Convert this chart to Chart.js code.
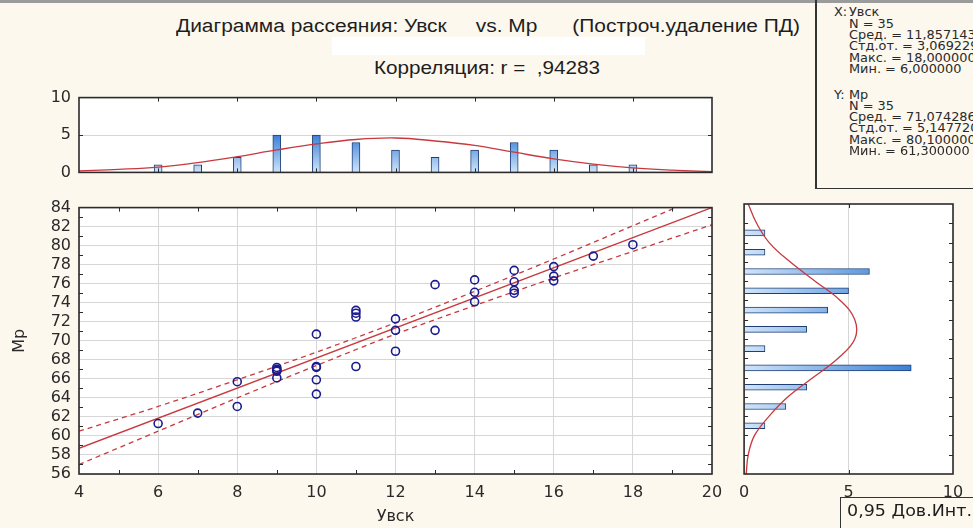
<!DOCTYPE html>
<html lang="ru">
<head>
<meta charset="utf-8">
<title>Диаграмма рассеяния: Увск vs. Мр</title>
<script src="https://cdn.jsdelivr.net/npm/chart.js@4.4.1/dist/chart.umd.min.js"></script>
<style>
    html, body { margin: 0; padding: 0; }
    body {
        position: relative;
        width: 973px;
        height: 528px;
        overflow: hidden;
        background: #fcf8ee;
        font-family: "Liberation Sans", Arial, sans-serif;
        color: #1e1e1e;
    }
    canvas { position: absolute; }
    .texto { position: absolute; white-space: pre; line-height: 1; transform-origin: left top; }
    #faixaTopo { position: absolute; left: 0; top: 0; width: 973px; height: 3px; background: #9b9b9b; }
    #tarjaBranca { position: absolute; left: 332px; top: 37px; width: 313px; height: 18px; background: #fff; }
    #titulo { left: 176px; top: 17px; font-size: 18px; }
    #correlacao { left: 374px; top: 59px; font-size: 18px; }
    #caixaEstat {
        position: absolute; left: 815px; top: -2px; width: 170px; height: 190px;
        border-left: 2px solid #333; border-bottom: 1.5px solid #333; z-index: 2;
    }
    .estat { font-family: "DejaVu Sans", sans-serif; font-size: 11.5px; z-index: 3; color: #2a2a2a; }
    #caixaLegenda {
        position: absolute; left: 840px; top: 497px; width: 150px; height: 40px;
        border: 1px solid #333; z-index: 2;
    }
    #legendaTexto { left: 847px; top: 503px; font-family: "DejaVu Sans", sans-serif; font-size: 16px; z-index: 3; }
</style>
</head>
<body>
<div id="faixaTopo"></div>
<div id="titulo" class="texto">Диаграмма рассеяния: Увск     vs. Мр      (Построч.удаление ПД)</div>
<div id="tarjaBranca"></div>
<div id="correlacao" class="texto">Корреляция: r =  ,94283</div>
<div id="caixaEstat"></div>
<div id="caixaLegenda"></div>
<div id="legendaTexto" class="texto">0,95 Дов.Инт.</div>

<canvas id="histTopo" width="740" height="110" style="left:0;top:80px"></canvas>
<canvas id="graficoPrincipal" width="740" height="338" style="left:0;top:190px"></canvas>
<canvas id="histDireita" width="243" height="338" style="left:730px;top:190px"></canvas>

<script>
// ============================================
// DADOS
// ============================================

// Pontos: Увск (x) e Мр (y)
const valoresUvsk = [6, 7, 8, 8, 9, 9, 9, 9, 9, 10, 10, 10, 10, 10, 11, 11, 11, 11,
    12, 12, 12, 13, 13, 14, 14, 14, 15, 15, 15, 15, 16, 16, 16, 17, 18];
const valoresMp = [61.3, 62.4, 65.7, 63.1, 67.2, 67.0, 66.9, 66.8, 66.1, 70.7, 67.3, 67.2, 65.9, 64.4,
    73.2, 72.9, 72.5, 67.3, 72.3, 71.1, 68.9, 75.9, 71.1, 76.4, 75.1, 74.1, 77.4, 76.2, 75.3, 75.0,
    77.8, 76.8, 76.3, 78.9, 80.1];

// Histograma de Увск (topo)
const classesUvsk = [6, 7, 8, 9, 10, 11, 12, 13, 14, 15, 16, 17, 18];
const contagemUvsk = [1, 1, 2, 5, 5, 4, 3, 2, 3, 4, 3, 1, 1];

// Histograma de Мр (direita)
const classesMp = [61, 63, 65, 67, 69, 71, 73, 75, 77, 79, 81];
const contagemMp = [1, 2, 3, 8, 1, 3, 4, 5, 6, 1, 1];

// Curva normal sobre o histograma de Увск
const curvaUvskX = [4, 5, 6, 7, 8, 9, 10, 11, 12, 13, 14, 15, 16, 17, 18, 19, 20];
const curvaUvskY = [0.2, 0.4, 0.7, 1.3, 2.1, 3.0, 3.8, 4.4, 4.6, 4.2, 3.6, 2.7, 1.8, 1.1, 0.6, 0.3, 0.1];

// Curva normal sobre o histograma de Мр
const curvaMpY = [56, 58, 60, 62, 64, 66, 68, 70, 72, 74, 76, 78, 80, 82, 84];
const curvaMpX = [0.1, 0.2, 0.5, 1.2, 2.1, 3.3, 4.5, 5.3, 5.3, 4.6, 3.4, 2.2, 1.2, 0.6, 0.2];

// Reta de regressão e intervalo de confiança 0,95
const retaX = [4, 20];
const retaY = [58.7, 84.0];
const faixaX = [4, 6, 8, 10, 12, 14, 16, 18, 20];
const faixaSuperior = [60.5, 63.1, 65.9, 68.8, 71.9, 75.2, 78.6, 82.1, 85.6];
const faixaInferior = [57.0, 60.5, 64.0, 67.4, 70.7, 73.7, 76.6, 79.4, 82.2];

// Rótulos dos eixos
const ticksUvsk = [4, 6, 8, 10, 12, 14, 16, 18, 20];
const ticksMp = [56, 58, 60, 62, 64, 66, 68, 70, 72, 74, 76, 78, 80, 82, 84];
const ticksContagemTopo = [0, 5, 10];
const ticksContagemDireita = [0, 5, 10];

// Texto da caixa de estatísticas
const estatX = ['N = 35', 'Сред. = 11,857143', 'Стд.от. = 3,069229', 'Макс. = 18,000000', 'Мин. = 6,000000'];
const estatY = ['N = 35', 'Сред. = 71,074286', 'Стд.от. = 5,147720', 'Макс. = 80,100000', 'Мин. = 61,300000'];

// ============================================
// ESTILO
// ============================================
const corVermelha = '#c8393e';
const corPontos = '#1b1b8e';
const corBordaBarra = '#1f3f73';
const corGrade = '#d6d6d6';
const corTexto = '#2a2a2a';
const fonteEixo = { family: 'DejaVu Sans', size: 16 };
const fonteTitulo = { family: 'DejaVu Sans', size: 16 };

// Fundo branco, moldura e marcas internas
const pluginMoldura = {
    id: 'moldura',
    beforeDraw(chart) {
        const { ctx, chartArea: a } = chart;
        ctx.save();
        ctx.fillStyle = '#ffffff';
        ctx.fillRect(a.left, a.top, a.right - a.left, a.bottom - a.top);
        ctx.restore();
    },
    afterDatasetsDraw(chart, args, opts) {
        const { ctx, chartArea: a, scales } = chart;
        const tam = 4;
        ctx.save();
        ctx.strokeStyle = '#2b2b2b';
        ctx.lineWidth = 1;
        ctx.beginPath();
        (opts.marcasX || []).forEach(v => {
            const px = Math.round(scales.x.getPixelForValue(v)) + 0.5;
            ctx.moveTo(px, a.top); ctx.lineTo(px, a.top + tam);
            ctx.moveTo(px, a.bottom); ctx.lineTo(px, a.bottom - tam);
        });
        (opts.marcasY || []).forEach(v => {
            const py = Math.round(scales.y.getPixelForValue(v)) + 0.5;
            ctx.moveTo(a.left, py); ctx.lineTo(a.left + tam, py);
            ctx.moveTo(a.right, py); ctx.lineTo(a.right - tam, py);
        });
        ctx.stroke();
        ctx.lineWidth = 1.6;
        ctx.strokeRect(a.left, a.top, a.right - a.left, a.bottom - a.top);
        ctx.restore();
    }
};

// Gradiente das barras (claro na base, escuro no topo)
function gradienteBarra(horizontal, valorTopo) {
    return (c) => {
        const chart = c.chart;
        const a = chart.chartArea;
        if (!a) return '#8dbbec';
        const g = horizontal
            ? chart.ctx.createLinearGradient(a.left, 0, chart.scales.x.getPixelForValue(valorTopo), 0)
            : chart.ctx.createLinearGradient(0, a.bottom, 0, chart.scales.y.getPixelForValue(valorTopo));
        g.addColorStop(0, '#cfe4f9');
        g.addColorStop(1, '#3a80d8');
        return g;
    };
}

function fixarTicks(lista) {
    return (scale) => { scale.ticks = lista.map(v => ({ value: v })); };
}

const base = {
    responsive: false,
    animation: false,
    devicePixelRatio: 1
};

// ============================================
// HISTOGRAMA DO TOPO (Увск)
// ============================================
new Chart(document.getElementById('histTopo'), {
    type: 'bar',
    data: {
        datasets: [{
            type: 'line',
            data: curvaUvskX.map((x, i) => ({ x: x, y: curvaUvskY[i] })),
            borderColor: corVermelha,
            borderWidth: 1.3,
            pointRadius: 0,
            tension: 0.4
        }, {
            data: classesUvsk.map((x, i) => ({ x: x, y: contagemUvsk[i] })),
            backgroundColor: gradienteBarra(false, 5),
            borderColor: corBordaBarra,
            borderWidth: 1,
            barThickness: 8
        }]
    },
    options: {
        ...base,
        layout: { padding: { top: 9, bottom: 12, left: 0, right: 28 } },
        plugins: {
            legend: { display: false },
            tooltip: { enabled: false },
            moldura: { marcasX: [6, 8, 10, 12, 14, 16, 18], marcasY: [5] }
        },
        scales: {
            x: { type: 'linear', min: 4, max: 20, offset: false, display: false, grid: { offset: false } },
            y: {
                type: 'linear', min: 0, max: 10,
                afterBuildTicks: fixarTicks(ticksContagemTopo),
                afterFit: (s) => { s.width = 79; },
                border: { display: false },
                grid: { color: corGrade, drawTicks: false },
                ticks: { padding: 8, font: fonteEixo, color: corTexto, autoSkip: false }
            }
        }
    },
    plugins: [pluginMoldura]
});

// ============================================
// DIAGRAMA DE DISPERSÃO
// ============================================
new Chart(document.getElementById('graficoPrincipal'), {
    type: 'scatter',
    data: {
        datasets: [{
            label: 'Мр',
            data: valoresUvsk.map((x, i) => ({ x: x, y: valoresMp[i] })),
            pointRadius: 4,
            pointBorderWidth: 1.6,
            pointBorderColor: corPontos,
            pointBackgroundColor: 'rgba(255,255,255,0)'
        }, {
            data: retaX.map((x, i) => ({ x: x, y: retaY[i] })),
            showLine: true,
            pointRadius: 0,
            borderColor: corVermelha,
            borderWidth: 1.4
        }, {
            data: faixaX.map((x, i) => ({ x: x, y: faixaSuperior[i] })),
            showLine: true,
            pointRadius: 0,
            borderColor: corVermelha,
            borderWidth: 1.3,
            borderDash: [5, 4],
            cubicInterpolationMode: 'monotone'
        }, {
            data: faixaX.map((x, i) => ({ x: x, y: faixaInferior[i] })),
            showLine: true,
            pointRadius: 0,
            borderColor: corVermelha,
            borderWidth: 1.3,
            borderDash: [5, 4],
            cubicInterpolationMode: 'monotone'
        }]
    },
    options: {
        ...base,
        layout: { padding: { top: 14, right: 28, left: 0, bottom: 0 } },
        plugins: {
            legend: { display: false },
            tooltip: { enabled: false },
            moldura: {
                marcasX: [5, 7, 9, 11, 13, 15, 17, 19],
                marcasY: [57, 59, 61, 63, 65, 67, 69, 71, 73, 75, 77, 79, 81, 83]
            }
        },
        scales: {
            x: {
                type: 'linear', min: 4, max: 20,
                afterBuildTicks: fixarTicks(ticksUvsk),
                afterFit: (s) => { s.height = 54; },
                border: { display: false },
                grid: { color: corGrade, drawTicks: false },
                ticks: { padding: 9, font: fonteEixo, color: corTexto, autoSkip: false, maxRotation: 0 },
                title: { display: true, text: 'Увск', font: fonteTitulo, color: corTexto, padding: { bottom: 2 } }
            },
            y: {
                type: 'linear', min: 56, max: 84,
                afterBuildTicks: fixarTicks(ticksMp),
                afterFit: (s) => { s.width = 79; },
                border: { display: false },
                grid: { color: corGrade, drawTicks: false },
                ticks: { padding: 8, font: fonteEixo, color: corTexto, autoSkip: false },
                title: { display: true, text: 'Мр', font: fonteTitulo, color: corTexto, padding: { top: 10 } }
            }
        }
    },
    plugins: [pluginMoldura]
});

// ============================================
// HISTOGRAMA DA DIREITA (Мр)
// ============================================
new Chart(document.getElementById('histDireita'), {
    type: 'bar',
    data: {
        datasets: [{
            type: 'line',
            indexAxis: 'y',
            data: curvaMpY.map((y, i) => ({ x: curvaMpX[i], y: y })),
            borderColor: corVermelha,
            borderWidth: 1.3,
            pointRadius: 0,
            tension: 0.4
        }, {
            indexAxis: 'y',
            data: classesMp.map((y, i) => ({ x: contagemMp[i], y: y })),
            backgroundColor: gradienteBarra(true, 8),
            borderColor: corBordaBarra,
            borderWidth: 1,
            barThickness: 6
        }]
    },
    options: {
        ...base,
        indexAxis: 'y',
        layout: { padding: { top: 14, right: 20, left: 12, bottom: 0 } },
        plugins: {
            legend: { display: false },
            tooltip: { enabled: false },
            moldura: { marcasX: [5], marcasY: [58, 60, 62, 64, 66, 68, 70, 72, 74, 76, 78, 80, 82] }
        },
        scales: {
            x: {
                type: 'linear', min: 0, max: 10,
                afterBuildTicks: fixarTicks(ticksContagemDireita),
                afterFit: (s) => { s.height = 54; },
                border: { display: false },
                grid: { color: corGrade, drawTicks: false },
                ticks: { padding: 9, font: fonteEixo, color: corTexto, autoSkip: false, maxRotation: 0 }
            },
            y: { type: 'linear', min: 56, max: 84, offset: false, display: false, grid: { offset: false } }
        }
    },
    plugins: [pluginMoldura]
});

// ============================================
// TEXTOS (título, estatísticas, legenda)
// ============================================
function ajustarLargura(id, largura) {
    const el = document.getElementById(id);
    const w = el.getBoundingClientRect().width;
    el.style.transform = `scaleX(${largura / w})`;
}
ajustarLargura('titulo', 624);
ajustarLargura('correlacao', 226);
ajustarLargura('legendaTexto', 125);

function escreverLinha(texto, x, yCentro, escala) {
    const el = document.createElement('div');
    el.className = 'texto estat';
    el.textContent = texto;
    el.style.left = x + 'px';
    el.style.top = (yCentro - 5.5) + 'px';
    el.style.transform = `scaleX(${escala})`;
    document.body.appendChild(el);
}

const escalaEstat = 1.12;
escreverLinha('X:', 834, 12.5, escalaEstat);
escreverLinha('Увск', 849, 12.5, escalaEstat);
estatX.forEach((t, i) => escreverLinha(t, 849, 24 + i * 11.4, escalaEstat));
escreverLinha('Y:', 834, 95, escalaEstat);
escreverLinha('Мр', 849, 95, escalaEstat);
estatY.forEach((t, i) => escreverLinha(t, 849, 106.3 + i * 11.3, escalaEstat));
</script>
</body>
</html>
